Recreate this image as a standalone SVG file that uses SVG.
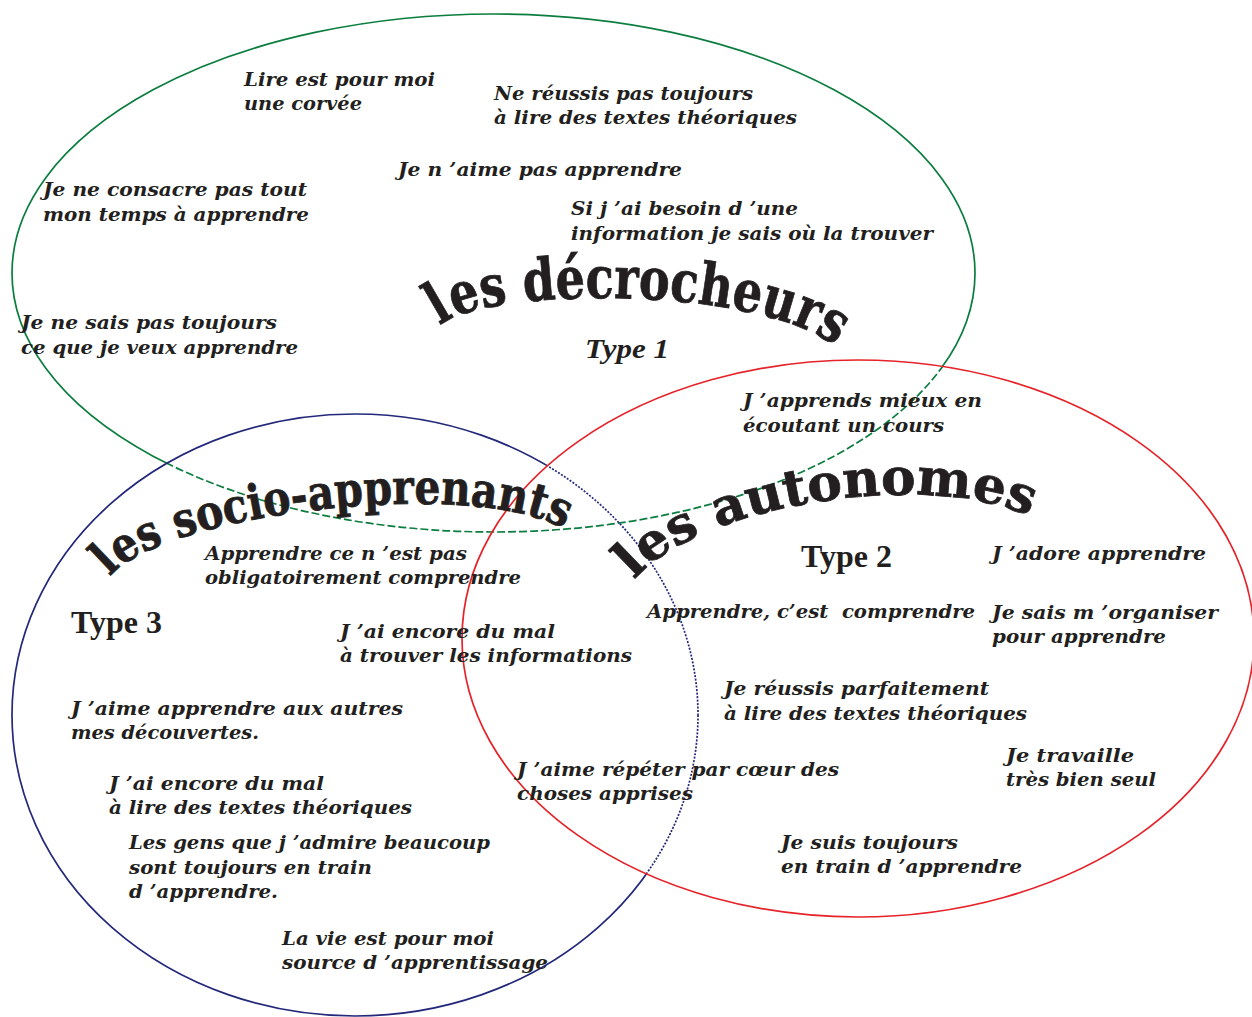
<svg xmlns="http://www.w3.org/2000/svg" width="1252" height="1017" viewBox="0 0 1252 1017">
<defs>
<style>
.s{font-family:"DejaVu Serif","Liberation Serif",serif;font-weight:bold;font-style:italic;font-size:18px;fill:#231f20}
.t{font-family:"DejaVu Serif","Liberation Serif",serif;font-weight:bold;fill:#231f20;stroke:#231f20;stroke-width:0.8}
.ty{font-family:"Liberation Serif","Times New Roman",serif;font-weight:bold;fill:#231f20}
.e{fill:none;stroke-width:1.7}
.green{stroke:#0b7d3e}
.navy{stroke:#23287a}
.red{stroke:#e52329}
</style>
<mask id="outNR" maskUnits="userSpaceOnUse" x="0" y="0" width="1252" height="1017">
<rect width="1252" height="1017" fill="#fff"/>
<ellipse cx="355" cy="715" rx="343" ry="301" fill="#000"/>
<ellipse cx="858" cy="638.5" rx="396" ry="278.5" fill="#000"/>
</mask>
<mask id="inNR" maskUnits="userSpaceOnUse" x="0" y="0" width="1252" height="1017">
<rect width="1252" height="1017" fill="#000"/>
<ellipse cx="355" cy="715" rx="343" ry="301" fill="#fff"/>
<ellipse cx="858" cy="638.5" rx="396" ry="278.5" fill="#fff"/>
</mask>
<mask id="outR" maskUnits="userSpaceOnUse" x="0" y="0" width="1252" height="1017">
<rect width="1252" height="1017" fill="#fff"/>
<ellipse cx="858" cy="638.5" rx="396" ry="278.5" fill="#000"/>
</mask>
<mask id="inR" maskUnits="userSpaceOnUse" x="0" y="0" width="1252" height="1017">
<rect width="1252" height="1017" fill="#000"/>
<ellipse cx="858" cy="638.5" rx="396" ry="278.5" fill="#fff"/>
</mask>
<path id="arc1" d="M 440 326 C 478 288, 760 282, 840 350"/>
<path id="arc3" d="M 110 577 C 158 514, 485 472, 575 535"/>
<path id="arc2" d="M 634 580 C 704 500, 945 467, 1040 522"/>
</defs>
<rect width="1252" height="1017" fill="#fff"/>

<g id="outlines">
<ellipse class="e green" cx="493.5" cy="273" rx="481.5" ry="259" mask="url(#outNR)"/>
<ellipse class="e green" cx="493.5" cy="273" rx="481.5" ry="259" stroke-dasharray="8 3" mask="url(#inNR)"/>
<ellipse class="e navy" cx="355" cy="715" rx="343" ry="301" mask="url(#outR)"/>
<ellipse class="e navy" cx="355" cy="715" rx="343" ry="301" stroke-dasharray="2 1.5" mask="url(#inR)"/>
<ellipse class="e red" cx="858" cy="638.5" rx="396" ry="278.5"/>
</g>

<g id="type1-decrocheurs">
<text class="t" font-size="58"><textPath href="#arc1" textLength="408" lengthAdjust="spacingAndGlyphs">les décrocheurs</textPath></text>
<text class="ty" x="585" y="358" font-size="28" font-style="italic" textLength="84" lengthAdjust="spacingAndGlyphs">Type 1</text>
<text class="s" x="244" y="86" textLength="191" lengthAdjust="spacingAndGlyphs">Lire est pour moi</text>
<text class="s" x="244" y="110" textLength="118" lengthAdjust="spacingAndGlyphs">une corvée</text>
<text class="s" x="494" y="100" textLength="259" lengthAdjust="spacingAndGlyphs">Ne réussis pas toujours</text>
<text class="s" x="494" y="124" textLength="303" lengthAdjust="spacingAndGlyphs">à lire des textes théoriques</text>
<text class="s" x="398" y="176" textLength="284" lengthAdjust="spacingAndGlyphs">Je n ’aime pas apprendre</text>
<text class="s" x="43" y="196" textLength="264" lengthAdjust="spacingAndGlyphs">Je ne consacre pas tout</text>
<text class="s" x="43" y="221" textLength="266" lengthAdjust="spacingAndGlyphs">mon temps à apprendre</text>
<text class="s" x="571" y="215" textLength="227" lengthAdjust="spacingAndGlyphs">Si j ’ai besoin d ’une</text>
<text class="s" x="571" y="240" textLength="362" lengthAdjust="spacingAndGlyphs">information je sais où la trouver</text>
<text class="s" x="21" y="329" textLength="256" lengthAdjust="spacingAndGlyphs">Je ne sais pas toujours</text>
<text class="s" x="21" y="354" textLength="277" lengthAdjust="spacingAndGlyphs">ce que je veux apprendre</text>
</g>

<g id="type2-autonomes">
<text class="t" font-size="51"><textPath href="#arc2" textLength="418" lengthAdjust="spacingAndGlyphs">les autonomes</textPath></text>
<text class="ty" x="801" y="567" font-size="31" textLength="91" lengthAdjust="spacingAndGlyphs">Type 2</text>
<text class="s" x="743" y="407" textLength="239" lengthAdjust="spacingAndGlyphs">J ’apprends mieux en</text>
<text class="s" x="743" y="432" textLength="201" lengthAdjust="spacingAndGlyphs">écoutant un cours</text>
<text class="s" x="992" y="560" textLength="214" lengthAdjust="spacingAndGlyphs">J ’adore apprendre</text>
<text class="s" x="647" y="618" textLength="328" lengthAdjust="spacingAndGlyphs" xml:space="preserve">Apprendre, c’est  comprendre</text>
<text class="s" x="992" y="619" textLength="226" lengthAdjust="spacingAndGlyphs">Je sais m ’organiser</text>
<text class="s" x="992" y="643" textLength="174" lengthAdjust="spacingAndGlyphs">pour apprendre</text>
<text class="s" x="724" y="695" textLength="265" lengthAdjust="spacingAndGlyphs">Je réussis parfaitement</text>
<text class="s" x="724" y="720" textLength="303" lengthAdjust="spacingAndGlyphs">à lire des textes théoriques</text>
<text class="s" x="1006" y="762" textLength="128" lengthAdjust="spacingAndGlyphs">Je travaille</text>
<text class="s" x="1006" y="786" textLength="150" lengthAdjust="spacingAndGlyphs">très bien seul</text>
<text class="s" x="517" y="776" textLength="322" lengthAdjust="spacingAndGlyphs">J ’aime répéter par cœur des</text>
<text class="s" x="517" y="800" textLength="176" lengthAdjust="spacingAndGlyphs">choses apprises</text>
<text class="s" x="781" y="849" textLength="177" lengthAdjust="spacingAndGlyphs">Je suis toujours</text>
<text class="s" x="781" y="873" textLength="241" lengthAdjust="spacingAndGlyphs">en train d ’apprendre</text>
</g>

<g id="type3-socio-apprenants">
<text class="t" font-size="48"><textPath href="#arc3" textLength="472" lengthAdjust="spacingAndGlyphs">les socio-apprenants</textPath></text>
<text class="ty" x="71" y="633" font-size="31" textLength="91" lengthAdjust="spacingAndGlyphs">Type 3</text>
<text class="s" x="205" y="560" textLength="262" lengthAdjust="spacingAndGlyphs">Apprendre ce n ’est pas</text>
<text class="s" x="205" y="584" textLength="316" lengthAdjust="spacingAndGlyphs">obligatoirement comprendre</text>
<text class="s" x="340" y="638" textLength="215" lengthAdjust="spacingAndGlyphs">J ’ai encore du mal</text>
<text class="s" x="340" y="662" textLength="292" lengthAdjust="spacingAndGlyphs">à trouver les informations</text>
<text class="s" x="71" y="715" textLength="332" lengthAdjust="spacingAndGlyphs">J ’aime apprendre aux autres</text>
<text class="s" x="71" y="739" textLength="188" lengthAdjust="spacingAndGlyphs">mes découvertes.</text>
<text class="s" x="109" y="790" textLength="215" lengthAdjust="spacingAndGlyphs">J ’ai encore du mal</text>
<text class="s" x="109" y="814" textLength="303" lengthAdjust="spacingAndGlyphs">à lire des textes théoriques</text>
<text class="s" x="129" y="849" textLength="361" lengthAdjust="spacingAndGlyphs">Les gens que j ’admire beaucoup</text>
<text class="s" x="129" y="874" textLength="243" lengthAdjust="spacingAndGlyphs">sont toujours en train</text>
<text class="s" x="129" y="898" textLength="149" lengthAdjust="spacingAndGlyphs">d ’apprendre.</text>
<text class="s" x="282" y="945" textLength="212" lengthAdjust="spacingAndGlyphs">La vie est pour moi</text>
<text class="s" x="282" y="969" textLength="266" lengthAdjust="spacingAndGlyphs">source d ’apprentissage</text>
</g>
</svg>
